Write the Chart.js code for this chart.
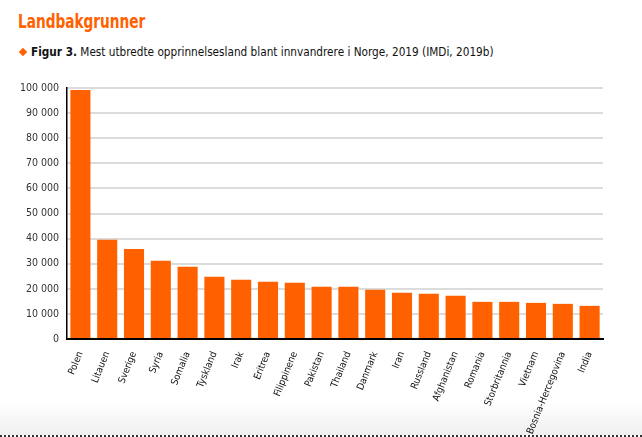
<html lang="no">
<head>
    <meta charset="UTF-8">
    <title>Landbakgrunner</title>
    <script src="https://cdn.jsdelivr.net/npm/chart.js"></script>
    <style>
      body {
          margin: 0;
          background: #fff;
          width: 642px;
          height: 437px;
          overflow: hidden;
          position: relative;
          font-family: 'DejaVu Sans Condensed', 'DejaVu Sans', sans-serif;
      }
      #title {
          position: absolute;
          left: 18px;
          top: 10px;
          font-size: 19px;
          font-weight: bold;
          color: #ff6100;
          white-space: nowrap;
          transform: scaleX(0.8);
          transform-origin: left top;
      }
      #caption {
          position: absolute;
          left: 18px;
          top: 45px;
          font-size: 11.7px;
          color: #111;
          white-space: nowrap;
      }
      #caption .dia {
          display: inline-block;
          width: 6px;
          height: 6px;
          background: #ff6100;
          transform: rotate(45deg);
          margin: 0 5px 1px 2px;
      }
      #fade {
          position: absolute;
          left: 0;
          right: 0;
          bottom: 0;
          height: 34px;
          background: linear-gradient(#fff, #efefef);
          border-bottom: 2px dotted #333;
          box-sizing: border-box;
      }
      canvas {
          position: absolute;
          left: 0;
          top: 0;
      }
    </style>
</head>
<body>
    <div id="fade"></div>
    <div id="title">Landbakgrunner</div>
    <div id="caption"><span class="dia"></span><b>Figur 3.</b> Mest utbredte opprinnelsesland blant innvandrere i Norge, 2019 (IMDi, 2019b)</div>
    <canvas id="chart" width="642" height="437"></canvas>
    <script>
        const countries = ['Polen', 'Litauen', 'Sverige', 'Syria', 'Somalia', 'Tyskland', 'Irak', 'Eritrea',
            'Filippinene', 'Pakistan', 'Thailand', 'Danmark', 'Iran', 'Russland', 'Afghanistan', 'Romania',
            'Storbritannia', 'Vietnam', 'Bosnia-Hercegovina', 'India'];
        const immigrants = [99200, 39500, 35900, 31200, 28800, 24800, 23600, 22800,
            22400, 20800, 20800, 19600, 18400, 18000, 17200, 14800,
            14800, 14400, 14000, 13200];
        const yMax = 100000;
        const yStep = 10000;

        function spaced(v) {
            return String(v).replace(/\B(?=(\d{3})+(?!\d))/g, ' ');
        }

        const fam = "'DejaVu Sans Condensed', 'DejaVu Sans', sans-serif";

        new Chart(document.getElementById('chart'), {
            type: 'bar',
            data: {
                labels: countries,
                datasets: [{
                    data: immigrants,
                    backgroundColor: '#ff6100',
                    barPercentage: 0.75,
                    categoryPercentage: 1
                }]
            },
            options: {
                responsive: false,
                animation: false,
                layout: { padding: { top: 88, right: 39, left: 0, bottom: 0 } },
                plugins: {
                    legend: { display: false },
                    tooltip: { enabled: false }
                },
                scales: {
                    x: {
                        grid: { display: false },
                        border: { color: '#000', width: 2 },
                        ticks: {
                            color: '#111',
                            font: { family: fam, size: 9.8 },
                            minRotation: 68,
                            maxRotation: 68,
                            padding: 3,
                            autoSkip: false
                        },
                        afterFit: s => { s.height = 98; }
                    },
                    y: {
                        min: 0,
                        max: yMax,
                        grid: { color: '#dcdcdc', lineWidth: 2, drawTicks: false },
                        border: { color: '#000', width: 1.5 },
                        ticks: {
                            stepSize: yStep,
                            color: '#333',
                            font: { family: fam, size: 10.5 },
                            padding: 8,
                            callback: v => spaced(v)
                        },
                        afterFit: s => { s.width = 67; }
                    }
                }
            }
        });
    </script>
</body>
</html>
